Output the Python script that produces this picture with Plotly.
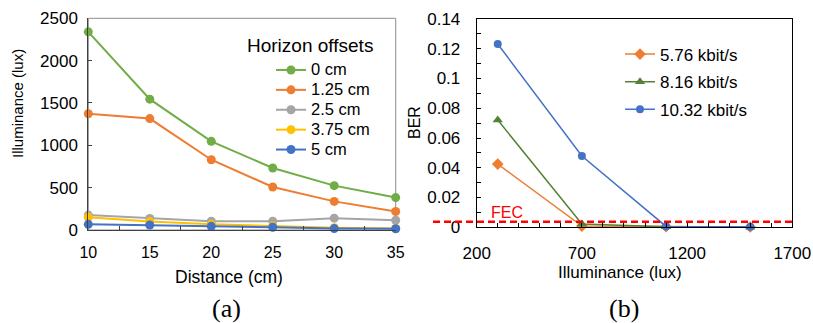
import plotly.graph_objects as go

# ---------------- data ----------------
distance = [10, 15, 20, 25, 30, 35]
offset_names = ["0 cm", "1.25 cm", "2.5 cm", "3.75 cm", "5 cm"]
illum_0 = [2340, 1545, 1047, 732, 524, 383]
illum_125 = [1373, 1316, 830, 508, 338, 218]
illum_25 = [176, 136, 104, 104, 140, 115]
illum_375 = [150, 99, 67, 46, 27, 18]
illum_5 = [67, 59, 43, 32, 17, 15]

ber_illum = [300, 700, 1100, 1500]
rate_names = ["5.76 kbit/s", "8.16 kbit/s", "10.32 kbit/s"]
ber_576 = [0.0425, 0.0008, 0.0005, 0.0002]
ber_816 = [0.0721, 0.0022, 0.0003, 0.0]
ber_1032 = [0.1232, 0.0479, 0.0006, 0.0003]
fec_limit = 0.0038

left_y_ticks = [0, 500, 1000, 1500, 2000, 2500]
right_y_ticks = [0, 0.02, 0.04, 0.06, 0.08, 0.1, 0.12, 0.14]
right_y_text = ["0", "0.02", "0.04", "0.06", "0.08", "0.1", "0.12", "0.14"]
right_x_ticks = [200, 700, 1200, 1700]

W, H = 813, 323
def px(x):
    return x / W
def py(y):
    return 1 - y / H

left_colors = ["#70AD47", "#ED7D31", "#A5A5A5", "#FFC000", "#4472C4"]
right_colors = ["#ED7D31", "#548235", "#4472C4"]
right_symbols = ["diamond", "triangle-up", "circle"]

fig = go.Figure()

for name, vals, col in zip(offset_names, [illum_0, illum_125, illum_25, illum_375, illum_5], left_colors):
    fig.add_trace(go.Scatter(
        x=distance, y=vals, mode="lines+markers",
        name='<span style="font-size:16.5px">' + name + '</span>',
        line=dict(color=col, width=2), marker=dict(color=col, size=9, symbol="circle"),
        xaxis="x", yaxis="y", legend="legend", cliponaxis=False,
    ))

for i, (name, vals, col, sym) in enumerate(zip(rate_names, [ber_576, ber_816, ber_1032], right_colors, right_symbols)):
    fig.add_trace(go.Scatter(
        x=ber_illum, y=vals, mode="lines+markers", name=name,
        line=dict(color=col, width=1.5),
        marker=dict(color=col, size=9 if sym != "circle" else 8, symbol=sym),
        xaxis="x2", yaxis="y2", legend="legend2", legendgroup="g%d" % i, cliponaxis=False,
    ))

FONT = "Liberation Sans, Arial, sans-serif"

fig.update_layout(
    width=W, height=H, margin=dict(l=0, r=0, t=0, b=0, pad=0, autoexpand=False),
    paper_bgcolor="white", plot_bgcolor="white",
    font=dict(family=FONT, color="#000000"),
    showlegend=True,
    xaxis=dict(domain=[px(88.3), px(395.7)], anchor="y", range=[10, 35], automargin=False,
               tickvals=distance, ticks="", showgrid=False, zeroline=False,
               showline=True, linecolor="#404040", linewidth=1,
               tickfont=dict(size=16, family=FONT), ticklabelstandoff=8,
               minor=dict(ticks="inside", tick0=12.5, dtick=5, ticklen=4, tickcolor="#404040", showgrid=False)),
    yaxis=dict(domain=[py(230), py(18.3)], anchor="x", range=[0, 2500], automargin=False,
               tickvals=left_y_ticks, ticks="inside", ticklen=4, tickcolor="#404040",
               showgrid=False, zeroline=False, showline=True, linecolor="#404040", linewidth=1,
               tickfont=dict(size=17, family=FONT), ticklabelstandoff=6),
    xaxis2=dict(domain=[px(476.7), px(792.3)], anchor="y2", range=[200, 1700], automargin=False,
                tickvals=right_x_ticks, ticks="inside", ticklen=4, tickcolor="#000",
                showgrid=False, zeroline=False, showline=True, mirror=True, linecolor="#000", linewidth=1,
                tickfont=dict(size=17, family=FONT), ticklabelstandoff=10,
                minor=dict(ticks="inside", dtick=100, tick0=200, ticklen=4, tickcolor="#000", showgrid=False)),
    yaxis2=dict(domain=[py(227.3), py(19)], anchor="x2", range=[0, 0.14], automargin=False,
                tickvals=right_y_ticks, ticktext=right_y_text, ticks="inside", ticklen=4, tickcolor="#000",
                showgrid=False, zeroline=False, showline=True, mirror=True, linecolor="#000", linewidth=1,
                tickfont=dict(size=17, family=FONT), ticklabelstandoff=12,
                minor=dict(ticks="inside", dtick=0.01, tick0=0, ticklen=4, tickcolor="#000", showgrid=False)),
    legend=dict(x=px(271), y=py(55), xanchor="left", yanchor="top",
                bgcolor="rgba(0,0,0,0)", font=dict(size=13, family=FONT),
                itemwidth=30, tracegroupgap=0),
    legend2=dict(x=px(620), y=py(36.5), xanchor="left", yanchor="top",
                 bgcolor="rgba(0,0,0,0)", font=dict(size=17, family=FONT),
                 itemwidth=30, tracegroupgap=2.5, traceorder="grouped"),
)

# gray frame of the left plot area
fig.add_shape(type="rect", xref="x domain", yref="y domain", x0=0, x1=1, y0=0, y1=1,
              line=dict(color="#8c8c8c", width=1), layer="below")

# FEC dashed line
fig.add_shape(type="line", xref="paper", yref="y2", x0=px(433), x1=px(792.3), y0=fec_limit, y1=fec_limit,
              line=dict(color="#FF0000", width=2.5, dash="7px,4px"), layer="above")

ann = [
    dict(text="Horizon offsets", x=px(310), y=py(45), size=19),
    dict(text="Illuminance (lux)", x=px(18), y=py(104), size=15, angle=-90),
    dict(text="Distance (cm)", x=px(229), y=py(276.7), size=17.5),
    dict(text="BER", x=px(415), y=py(123), size=16, angle=-90),
    dict(text="Illuminance (lux)", x=px(620), y=py(272), size=17),
    dict(text="FEC", x=px(506.7), y=py(212.7), size=16, color="#FF0000"),
    dict(text="(a)", x=px(226.7), y=py(308), size=26, family="Liberation Serif, Times New Roman, serif"),
    dict(text="(b)", x=px(624), y=py(308), size=26, family="Liberation Serif, Times New Roman, serif"),
]
for a in ann:
    fig.add_annotation(text=a["text"], xref="paper", yref="paper", x=a["x"], y=a["y"],
                       xanchor="center", yanchor="middle", showarrow=False,
                       textangle=a.get("angle", 0),
                       font=dict(size=a["size"], family=a.get("family", FONT), color=a.get("color", "#000")))

fig.write_html("out.html", config={"displayModeBar": False},
               post_script="document.body.style.margin='0';document.body.style.padding='0';")
